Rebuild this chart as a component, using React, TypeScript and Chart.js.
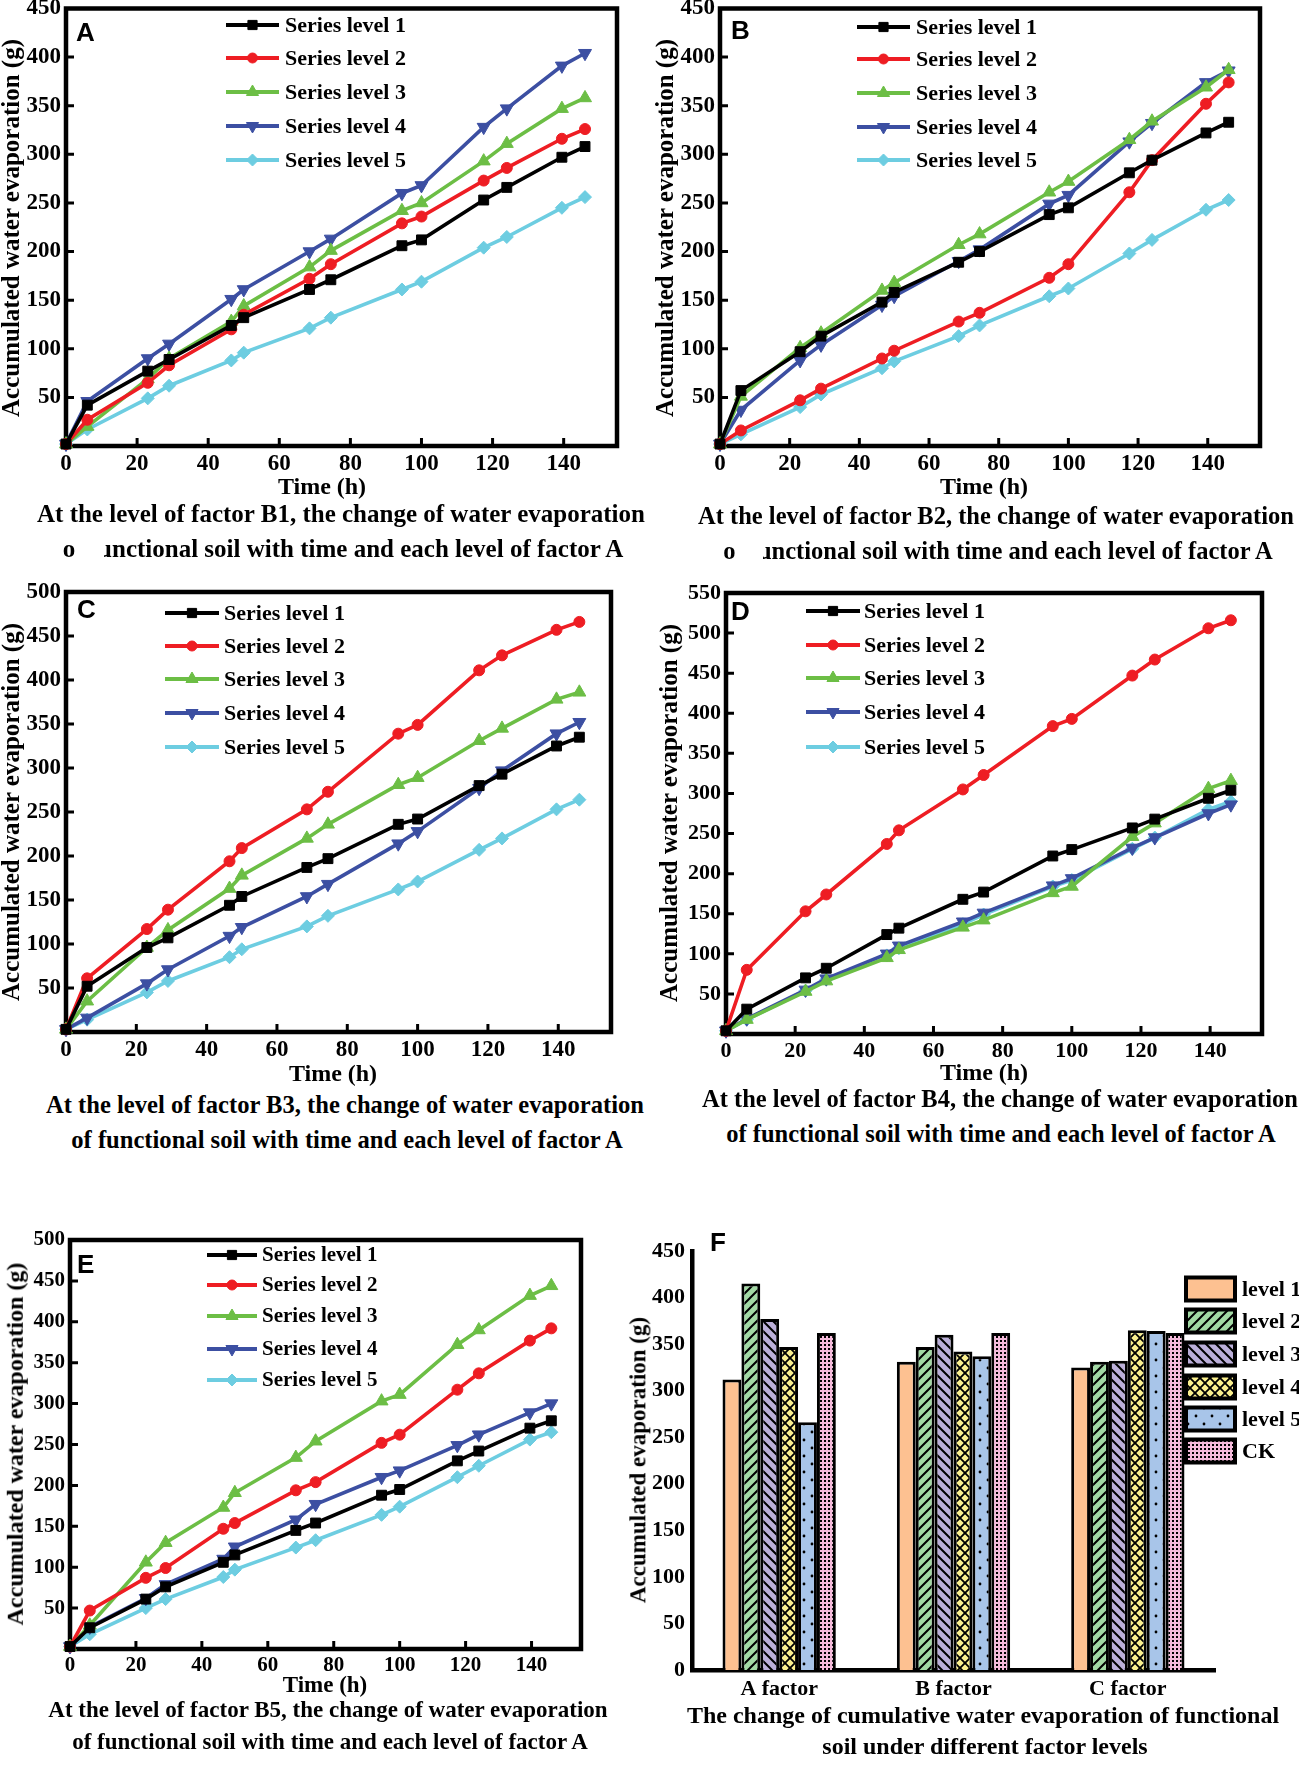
import React, { useEffect, useRef } from 'react';
import { Chart, registerables } from 'chart.js';
import { drawPoint } from 'chart.js/helpers';

Chart.register(...registerables);

// ---------------- data ----------------
const timeHours = [0, 6, 23, 29, 46.5, 50, 68.5, 74.5, 94.5, 100, 117.5, 124, 139.5, 146];
const timeTicks = [0, 20, 40, 60, 80, 100, 120, 140];
const seriesNames = ['Series level 1', 'Series level 2', 'Series level 3', 'Series level 4', 'Series level 5'];

// Panel A (factor B1)
const aLevel1 = [2, 42, 77, 89, 124, 132, 161, 171, 206, 212, 253, 266, 297, 308];
const aLevel2 = [2, 27, 65, 83, 120, 135, 172, 187, 229, 236, 273, 286, 316, 326];
const aLevel3 = [2, 20, 69, 90, 128, 144, 184, 201, 242, 250, 293, 311, 347, 358];
const aLevel4 = [2, 46, 90, 105, 151, 161, 200, 213, 260, 268, 328, 347, 391, 404];
const aLevel5 = [2, 17, 49, 62, 88, 96, 121, 132, 161, 169, 204, 215, 245, 256];

// Panel B (factor B2)
const bLevel1 = [2, 57, 97, 113, 148, 158, 189, 200, 238, 245, 281, 294, 322, 333];
const bLevel2 = [2, 16, 47, 59, 90, 98, 128, 137, 173, 187, 261, 294, 352, 374];
const bLevel3 = [2, 51, 101, 116, 160, 168, 207, 218, 261, 272, 315, 334, 369, 387];
const bLevel4 = [2, 37, 88, 104, 145, 154, 190, 202, 249, 258, 313, 332, 374, 386];
const bLevel5 = [2, 12, 40, 53, 80, 87, 113, 124, 154, 162, 198, 212, 243, 253];

// Panel C (factor B3)
const cLevel1 = [3, 52, 96, 107, 144, 154, 187, 197, 236, 242, 280, 293, 325, 335];
const cLevel2 = [3, 61, 117, 139, 194, 209, 253, 273, 339, 349, 411, 428, 457, 466];
const cLevel3 = [3, 35, 96, 116, 163, 178, 220, 236, 281, 289, 331, 345, 378, 386];
const cLevel4 = [3, 16, 55, 71, 109, 119, 154, 168, 214, 228, 277, 297, 339, 352];
const cLevel5 = [3, 14, 45, 58, 85, 94, 120, 132, 162, 171, 207, 220, 253, 264];

// Panel D (factor B4)
const dLevel1 = [4, 31, 70, 82, 124, 132, 168, 177, 222, 230, 257, 268, 294, 304];
const dLevel2 = [4, 80, 153, 174, 237, 254, 305, 323, 384, 393, 447, 467, 506, 516];
const dLevel3 = [4, 18, 53, 66, 95, 105, 133, 142, 176, 184, 246, 263, 306, 316];
const dLevel4 = [4, 19, 55, 69, 100, 110, 140, 151, 185, 194, 232, 245, 275, 286];
const dLevel5 = [4, 18, 54, 68, 98, 107, 137, 149, 184, 192, 231, 245, 280, 290];

// Panel E (factor B5)
const eLevel1 = [3, 26, 61, 76, 106, 115, 145, 154, 188, 195, 230, 242, 270, 279];
const eLevel2 = [3, 47, 87, 99, 147, 154, 194, 204, 252, 262, 317, 337, 377, 392];
const eLevel3 = [3, 29, 106, 130, 173, 191, 234, 254, 303, 311, 372, 390, 432, 444];
const eLevel4 = [3, 27, 62, 79, 110, 125, 158, 177, 210, 218, 249, 262, 289, 300];
const eLevel5 = [3, 18, 50, 61, 88, 97, 124, 133, 164, 174, 210, 224, 256, 265];

// Panel F (bars)
const factorNames = ['A factor', 'B factor', 'C factor'];
const barLevelNames = ['level 1', 'level 2', 'level 3', 'level 4', 'level 5', 'CK'];
const barLevel1 = [312, 331, 325];
const barLevel2 = [415, 347, 331];
const barLevel3 = [377, 360, 332];
const barLevel4 = [347, 342, 365];
const barLevel5 = [266, 337, 364];
const barCK = [362, 362, 362];

// ---------------- styles ----------------
const SERIF = '"Liberation Serif", "Times New Roman", serif';
const SANS = '"Liberation Sans", Arial, sans-serif';

const lineStyles = [
  { color: '#000000', pointStyle: 'rect', radius: 7, rotation: 0 },
  { color: '#EE1D23', pointStyle: 'circle', radius: 5.5, rotation: 0 },
  { color: '#6CBE45', pointStyle: 'triangle', radius: 7.5, rotation: 0 },
  { color: '#3C4FA2', pointStyle: 'triangle', radius: 7.5, rotation: 180 },
  { color: '#6DCDE1', pointStyle: 'rectRot', radius: 6.5, rotation: 0 },
];

const barStyles = [
  { bg: '#FDC191', kind: 'solid' },
  { bg: '#A2D9A4', kind: 'fwd' },
  { bg: '#BBAFD9', kind: 'back' },
  { bg: '#FBF08E', kind: 'cross' },
  { bg: '#A8C5E9', kind: 'dots' },
  { bg: '#F5BADB', kind: 'check' },
];

type Box = { left: number; top: number; width: number; height: number };
type Area = { left: number; top: number; right: number; bottom: number };
type LegendCfg = { x1: number; x2: number; textX: number; rows: number[]; size: number };
type LinePanelCfg = {
  key: string;
  series: number[][];
  yMax: number;
  canvas: Box;
  area: Area;
  tickSize: number;
  legend: LegendCfg;
};

const linePanels: LinePanelCfg[] = [
  {
    key: 'A',
    series: [aLevel1, aLevel2, aLevel3, aLevel4, aLevel5],
    yMax: 450,
    canvas: { left: 0, top: 0, width: 640, height: 482 },
    area: { left: 66, top: 6, right: 617, bottom: 446 },
    tickSize: 23,
    legend: { x1: 226, x2: 279, textX: 285, rows: [25, 58, 92, 126, 160], size: 22 },
  },
  {
    key: 'B',
    series: [bLevel1, bLevel2, bLevel3, bLevel4, bLevel5],
    yMax: 450,
    canvas: { left: 650, top: 0, width: 649, height: 482 },
    area: { left: 720, top: 6, right: 1260, bottom: 446 },
    tickSize: 23,
    legend: { x1: 857, x2: 910, textX: 916, rows: [27, 59, 93, 127, 160], size: 22 },
  },
  {
    key: 'C',
    series: [cLevel1, cLevel2, cLevel3, cLevel4, cLevel5],
    yMax: 500,
    canvas: { left: 0, top: 578, width: 640, height: 494 },
    area: { left: 66, top: 592, right: 611, bottom: 1032 },
    tickSize: 23,
    legend: { x1: 165, x2: 219, textX: 224, rows: [613, 646, 679, 713, 747], size: 22 },
  },
  {
    key: 'D',
    series: [dLevel1, dLevel2, dLevel3, dLevel4, dLevel5],
    yMax: 550,
    canvas: { left: 650, top: 580, width: 649, height: 492 },
    area: { left: 726, top: 593, right: 1262, bottom: 1034 },
    tickSize: 22,
    legend: { x1: 806, x2: 860, textX: 864, rows: [611, 645, 678, 712, 747], size: 22 },
  },
  {
    key: 'E',
    series: [eLevel1, eLevel2, eLevel3, eLevel4, eLevel5],
    yMax: 500,
    canvas: { left: 0, top: 1215, width: 620, height: 472 },
    area: { left: 70, top: 1240, right: 581, bottom: 1649 },
    tickSize: 21,
    legend: { x1: 207, x2: 257, textX: 262, rows: [1255, 1285, 1316, 1349, 1380], size: 21 },
  },
];

const barPanel = {
  canvas: { left: 640, top: 1228, width: 659, height: 478 },
  area: { left: 692, top: 1251, right: 1215, bottom: 1670 },
  legend: { boxX: 1186, boxW: 49, boxH: 23, textX: 1242, rows: [1289, 1321, 1354, 1387, 1419, 1451], size: 22 },
};

// ---------------- chart builders ----------------
function createLineChart(el: HTMLCanvasElement, cfg: LinePanelCfg) {
  const cv = cfg.canvas;
  const area = cfg.area;
  const yAxisW = area.left - cv.left;
  const xAxisH = cv.top + cv.height - area.bottom;
  const padTop = area.top - cv.top;
  const padRight = cv.left + cv.width - area.right;
  const tickFont = { family: SERIF, weight: 'bold' as const, size: cfg.tickSize };

  const framePlugin = {
    id: 'frame' + cfg.key,
    beforeDatasetsDraw(chart: any) {
      const { ctx, chartArea: a, scales } = chart;
      ctx.save();
      ctx.strokeStyle = '#000';
      ctx.lineWidth = 4.5;
      ctx.strokeRect(a.left, a.top, a.right - a.left, a.bottom - a.top);
      ctx.lineWidth = 3;
      ctx.beginPath();
      scales.x.ticks.forEach((t: any) => {
        if (t.value === 0) return;
        const px = scales.x.getPixelForValue(t.value);
        ctx.moveTo(px, a.bottom);
        ctx.lineTo(px, a.bottom - 8);
      });
      scales.y.ticks.forEach((t: any) => {
        if (t.value === 0) return;
        const py = scales.y.getPixelForValue(t.value);
        ctx.moveTo(a.left, py);
        ctx.lineTo(a.left + 8, py);
      });
      ctx.stroke();
      ctx.restore();
    },
  };

  const lg = cfg.legend;
  const legendPlugin = {
    id: 'legend' + cfg.key,
    afterDraw(chart: any) {
      const ctx = chart.ctx;
      seriesNames.forEach((name, i) => {
        const st = lineStyles[i];
        const y = lg.rows[i] - cv.top;
        const x1 = lg.x1 - cv.left;
        const x2 = lg.x2 - cv.left;
        ctx.save();
        ctx.strokeStyle = st.color;
        ctx.lineWidth = 4;
        ctx.beginPath();
        ctx.moveTo(x1, y);
        ctx.lineTo(x2, y);
        ctx.stroke();
        ctx.fillStyle = st.color;
        ctx.strokeStyle = st.color;
        ctx.lineWidth = 1;
        drawPoint(
          ctx,
          { pointStyle: st.pointStyle as any, rotation: st.rotation, radius: st.radius - 0.5, borderWidth: 1 },
          (x1 + x2) / 2,
          y
        );
        ctx.fillStyle = '#000';
        ctx.font = `bold ${lg.size}px ${SERIF}`;
        ctx.textBaseline = 'middle';
        ctx.textAlign = 'left';
        ctx.fillText(name, lg.textX - cv.left, y + 1);
        ctx.restore();
      });
    },
  };

  return new Chart(el, {
    type: 'line',
    data: {
      datasets: cfg.series.map((vals, i) => ({
        label: seriesNames[i],
        data: timeHours.map((t, j) => ({ x: t, y: vals[j] })),
        borderColor: lineStyles[i].color,
        backgroundColor: lineStyles[i].color,
        borderWidth: 3.6,
        pointStyle: lineStyles[i].pointStyle as any,
        pointRadius: lineStyles[i].radius,
        pointRotation: lineStyles[i].rotation,
        pointBackgroundColor: lineStyles[i].color,
        pointBorderColor: lineStyles[i].color,
        pointBorderWidth: 1,
        tension: 0,
        clip: false as any,
      })),
    },
    options: {
      animation: false,
      responsive: false,
      maintainAspectRatio: false,
      layout: { padding: { left: 0, top: padTop, right: padRight, bottom: 0 } },
      plugins: { legend: { display: false }, tooltip: { enabled: false }, title: { display: false } },
      scales: {
        x: {
          type: 'linear',
          min: 0,
          max: 155,
          afterBuildTicks: (ax: any) => {
            ax.ticks = timeTicks.map((v) => ({ value: v }));
          },
          afterFit: (s: any) => {
            s.height = xAxisH;
            s.paddingLeft = 0;
            s.paddingRight = 0;
          },
          grid: { display: false, drawTicks: false },
          border: { display: false },
          ticks: { font: tickFont, color: '#000', padding: 4, maxRotation: 0, autoSkip: false },
        },
        y: {
          type: 'linear',
          min: 0,
          max: cfg.yMax,
          afterFit: (s: any) => {
            s.width = yAxisW;
            s.paddingTop = 0;
            s.paddingBottom = 0;
          },
          grid: { display: false, drawTicks: false },
          border: { display: false },
          ticks: {
            stepSize: 50,
            font: tickFont,
            color: '#000',
            padding: 5,
            callback: (v: any) => (v === 0 ? '' : String(v)),
          },
        },
      },
    },
    plugins: [framePlugin, legendPlugin],
  });
}

function makeFill(kind: string, bg: string): string | CanvasPattern {
  if (kind === 'solid') return bg;
  const size = kind === 'dots' ? 16 : kind === 'check' ? 4 : 10;
  const c = document.createElement('canvas');
  c.width = size;
  c.height = size;
  const g = c.getContext('2d')!;
  g.fillStyle = bg;
  g.fillRect(0, 0, size, size);
  g.strokeStyle = '#000';
  g.fillStyle = '#000';
  g.lineWidth = 2;
  const fwd = () => {
    g.beginPath();
    g.moveTo(0, size);
    g.lineTo(size, 0);
    g.moveTo(-2, 2);
    g.lineTo(2, -2);
    g.moveTo(size - 2, size + 2);
    g.lineTo(size + 2, size - 2);
    g.stroke();
  };
  const back = () => {
    g.beginPath();
    g.moveTo(0, 0);
    g.lineTo(size, size);
    g.moveTo(-2, size - 2);
    g.lineTo(2, size + 2);
    g.moveTo(size - 2, -2);
    g.lineTo(size + 2, 2);
    g.stroke();
  };
  if (kind === 'fwd') fwd();
  if (kind === 'back') back();
  if (kind === 'cross') {
    g.lineWidth = 1.8;
    fwd();
    back();
  }
  if (kind === 'dots') {
    g.beginPath();
    g.arc(4, 4, 1.4, 0, Math.PI * 2);
    g.arc(12, 12, 1.4, 0, Math.PI * 2);
    g.fill();
  }
  if (kind === 'check') {
    g.fillRect(0, 0, 2, 2);
  }
  const ctx = document.createElement('canvas').getContext('2d')!;
  return ctx.createPattern(c, 'repeat') as CanvasPattern;
}

function createBarChart(el: HTMLCanvasElement) {
  const cv = barPanel.canvas;
  const area = barPanel.area;
  const yAxisW = area.left - cv.left;
  const xAxisH = cv.top + cv.height - area.bottom;
  const padTop = area.top - cv.top;
  const padRight = cv.left + cv.width - area.right;
  const levels = [barLevel1, barLevel2, barLevel3, barLevel4, barLevel5, barCK];
  const fills = barStyles.map((s) => makeFill(s.kind, s.bg));
  const lg = barPanel.legend;

  const legendPlugin = {
    id: 'barLegend',
    afterDraw(chart: any) {
      const ctx = chart.ctx;
      barLevelNames.forEach((name, i) => {
        const cy = lg.rows[i] - cv.top;
        const x = lg.boxX - cv.left;
        ctx.save();
        ctx.fillStyle = fills[i];
        ctx.fillRect(x, cy - lg.boxH / 2, lg.boxW, lg.boxH);
        ctx.strokeStyle = '#000';
        ctx.lineWidth = 4;
        ctx.strokeRect(x, cy - lg.boxH / 2, lg.boxW, lg.boxH);
        ctx.fillStyle = '#000';
        ctx.font = `bold ${lg.size}px ${SERIF}`;
        ctx.textBaseline = 'middle';
        ctx.textAlign = 'left';
        ctx.fillText(name, lg.textX - cv.left, cy + 1);
        ctx.restore();
      });
    },
  };

  return new Chart(el, {
    type: 'bar',
    data: {
      labels: factorNames,
      datasets: levels.map((vals, i) => ({
        label: barLevelNames[i],
        data: vals,
        backgroundColor: fills[i] as any,
        borderColor: '#000',
        borderWidth: 3,
        borderSkipped: 'start' as const,
        categoryPercentage: 0.65,
        barPercentage: 1,
      })),
    },
    options: {
      animation: false,
      responsive: false,
      maintainAspectRatio: false,
      layout: { padding: { left: 0, top: padTop, right: padRight, bottom: 0 } },
      plugins: { legend: { display: false }, tooltip: { enabled: false } },
      scales: {
        x: {
          afterFit: (s: any) => {
            s.height = xAxisH;
            s.paddingLeft = 0;
            s.paddingRight = 0;
          },
          grid: { display: false, drawTicks: false },
          border: { display: true, color: '#000', width: 4.5 },
          ticks: { font: { family: SERIF, weight: 'bold', size: 22 }, color: '#000', padding: 6, maxRotation: 0 },
        },
        y: {
          min: 0,
          max: 450,
          afterFit: (s: any) => {
            s.width = yAxisW;
            s.paddingTop = 0;
            s.paddingBottom = 0;
          },
          grid: { display: false, drawTicks: false },
          border: { display: true, color: '#000', width: 4.5 },
          ticks: { stepSize: 50, font: { family: SERIF, weight: 'bold', size: 22 }, color: '#000', padding: 7 },
        },
      },
    },
    plugins: [legendPlugin],
  });
}

// ---------------- components ----------------
function LinePanel({ cfg }: { cfg: LinePanelCfg }) {
  const ref = useRef<HTMLCanvasElement>(null);
  useEffect(() => {
    const chart = createLineChart(ref.current!, cfg);
    return () => chart.destroy();
  }, [cfg]);
  const c = cfg.canvas;
  return (
    <canvas
      ref={ref}
      width={c.width}
      height={c.height}
      style={{ position: 'absolute', left: c.left, top: c.top, width: c.width, height: c.height }}
    />
  );
}

function BarPanel() {
  const ref = useRef<HTMLCanvasElement>(null);
  useEffect(() => {
    const chart = createBarChart(ref.current!);
    return () => chart.destroy();
  }, []);
  const c = barPanel.canvas;
  return (
    <canvas
      ref={ref}
      width={c.width}
      height={c.height}
      style={{ position: 'absolute', left: c.left, top: c.top, width: c.width, height: c.height }}
    />
  );
}

function CText({ x, y, size, text }: { x: number; y: number; size: number; text: string }) {
  return (
    <div
      style={{
        position: 'absolute',
        left: x - 600,
        top: y - size * 0.6,
        width: 1200,
        textAlign: 'center',
        fontSize: size,
        lineHeight: `${size * 1.2}px`,
        whiteSpace: 'nowrap',
      }}
    >
      {text}
    </div>
  );
}

function VText({ x, y, size, text }: { x: number; y: number; size: number; text: string }) {
  return (
    <div
      style={{
        position: 'absolute',
        left: x,
        top: y,
        fontSize: size,
        lineHeight: `${size * 1.1}px`,
        whiteSpace: 'nowrap',
        transform: 'translate(-50%, -50%) rotate(-90deg)',
      }}
    >
      {text}
    </div>
  );
}

function Letter({ x, y, text }: { x: number; y: number; text: string }) {
  return (
    <div
      style={{
        position: 'absolute',
        left: x,
        top: y - 15,
        fontFamily: SANS,
        fontWeight: 'bold',
        fontSize: 26,
        lineHeight: '30px',
      }}
    >
      {text}
    </div>
  );
}

const yTitle = 'Accumulated water evaporation (g)';
const line2 = 'of functional soil with time and each level of factor A';

export default function App() {
  return (
    <div
      style={{
        position: 'absolute',
        left: 0,
        top: 0,
        width: 1299,
        height: 1770,
        overflow: 'hidden',
        background: '#fff',
        fontFamily: SERIF,
        fontWeight: 'bold',
        color: '#000',
      }}
    >
      {linePanels.map((p) => (
        <LinePanel key={p.key} cfg={p} />
      ))}
      <BarPanel />

      <Letter x={76} y={32} text="A" />
      <Letter x={731} y={30} text="B" />
      <Letter x={77} y={609} text="C" />
      <Letter x={731} y={611} text="D" />
      <Letter x={77} y={1264} text="E" />
      <Letter x={710} y={1242} text="F" />

      <VText x={11} y={228} size={25} text={yTitle} />
      <VText x={665} y={228} size={25} text={yTitle} />
      <VText x={11} y={812} size={25} text={yTitle} />
      <VText x={669} y={813} size={25} text={yTitle} />
      <VText x={15} y={1444} size={24} text={yTitle} />
      <VText x={638} y={1460} size={23} text="Accumulated evaporation (g)" />

      <CText x={322} y={486} size={24} text="Time (h)" />
      <CText x={984} y={486} size={24} text="Time (h)" />
      <CText x={333} y={1073} size={24} text="Time (h)" />
      <CText x={984} y={1072} size={24} text="Time (h)" />
      <CText x={325} y={1685} size={23} text="Time (h)" />

      <CText x={341} y={514} size={25} text="At the level of factor B1, the change of water evaporation" />
      <CText x={343} y={549} size={25} text={line2} />
      <CText x={996} y={516} size={24.5} text="At the level of factor B2, the change of water evaporation" />
      <CText x={998} y={551} size={24.5} text={line2} />
      <CText x={345} y={1105} size={24.6} text="At the level of factor B3, the change of water evaporation" />
      <CText x={347} y={1140} size={24.6} text={line2} />
      <CText x={1000} y={1099} size={24.5} text="At the level of factor B4, the change of water evaporation" />
      <CText x={1001} y={1134} size={24.5} text={line2} />
      <CText x={328} y={1710} size={23} text="At the level of factor B5, the change of water evaporation" />
      <CText x={330} y={1742} size={23} text={line2} />
      <CText x={983} y={1715} size={24} text="The change of cumulative water evaporation of functional" />
      <CText x={985} y={1746} size={24} text="soil under different factor levels" />

      {/* white patches that hide part of the second caption line in A and B, as in the source */}
      <div style={{ position: 'absolute', left: 75, top: 535, width: 29, height: 30, background: '#fff' }} />
      <div style={{ position: 'absolute', left: 735, top: 537, width: 28, height: 30, background: '#fff' }} />
    </div>
  );
}
